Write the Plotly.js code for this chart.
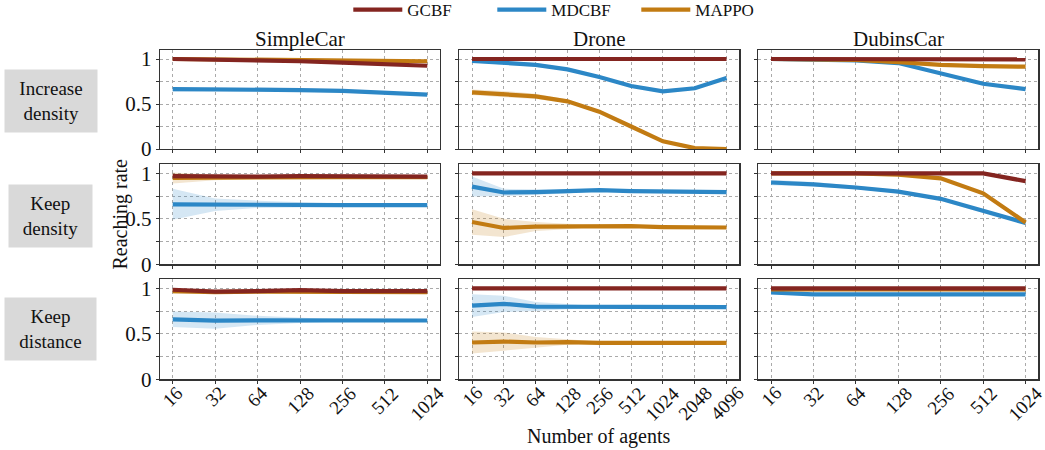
<!DOCTYPE html>
<html>
<head>
<meta charset="utf-8">
<script src="https://cdn.plot.ly/plotly-3.0.1.min.js"></script>
<style>html,body{margin:0;padding:0;background:#fff;}#chart{width:1045px;height:450px;}</style>
</head>
<body>
<div id="chart"></div>
<script>
// ---------------- DATA ----------------
const methods = ["GCBF", "MDCBF", "MAPPO"];
const envs = ["SimpleCar", "Drone", "DubinsCar"];
const settings = ["Increase<br>density", "Keep<br>density", "Keep<br>distance"];
const agentsSC = [16, 32, 64, 128, 256, 512, 1024];
const agentsDR = [16, 32, 64, 128, 256, 512, 1024, 2048, 4096];
const agentsDC = [16, 32, 64, 128, 256, 512, 1024];

// Increase density
const scIncGCBF = [1.0, 0.995, 0.985, 0.975, 0.96, 0.945, 0.925];
const scIncGCBFsd = [0.005, 0.005, 0.008, 0.01, 0.01, 0.01, 0.01];
const scIncMDCBF = [0.665, 0.665, 0.66, 0.655, 0.645, 0.63, 0.605];
const scIncMDCBFsd = [0.025, 0.02, 0.02, 0.02, 0.015, 0.01, 0.01];
const scIncMAPPO = [1.0, 0.995, 0.99, 0.985, 0.98, 0.975, 0.975];
const scIncMAPPOsd = [0.005, 0.005, 0.005, 0.005, 0.005, 0.005, 0.005];

const drIncGCBF = [1.0, 1.0, 1.0, 1.0, 1.0, 1.0, 1.0, 1.0, 1.0];
const drIncGCBFsd = [0.004, 0.004, 0.004, 0.004, 0.004, 0.004, 0.004, 0.004, 0.004];
const drIncMDCBF = [0.98, 0.96, 0.935, 0.885, 0.80, 0.70, 0.64, 0.675, 0.79];
const drIncMDCBFsd = [0.02, 0.02, 0.02, 0.015, 0.01, 0.01, 0.01, 0.01, 0.01];
const drIncMAPPO = [0.63, 0.61, 0.585, 0.53, 0.415, 0.25, 0.085, 0.01, 0.0];
const drIncMAPPOsd = [0.03, 0.035, 0.03, 0.02, 0.01, 0.01, 0.01, 0.005, 0.0];

const dcIncGCBF = [1.0, 1.0, 1.0, 1.0, 1.0, 1.0, 0.995];
const dcIncGCBFsd = [0.004, 0.004, 0.004, 0.004, 0.004, 0.004, 0.004];
const dcIncMDCBF = [1.0, 0.995, 0.985, 0.955, 0.845, 0.725, 0.665];
const dcIncMDCBFsd = [0.005, 0.005, 0.005, 0.01, 0.01, 0.01, 0.01];
const dcIncMAPPO = [1.0, 1.0, 0.99, 0.965, 0.935, 0.92, 0.915];
const dcIncMAPPOsd = [0.005, 0.005, 0.005, 0.01, 0.01, 0.01, 0.01];

// Keep density
const scDenGCBF = [0.97, 0.965, 0.965, 0.97, 0.965, 0.965, 0.965];
const scDenGCBFsd = [0.03, 0.01, 0.01, 0.01, 0.01, 0.01, 0.01];
const scDenMDCBF = [0.66, 0.655, 0.66, 0.655, 0.65, 0.65, 0.65];
const scDenMDCBFsd = [0.17, 0.07, 0.04, 0.03, 0.02, 0.015, 0.01];
const scDenMAPPO = [0.95, 0.955, 0.96, 0.965, 0.96, 0.96, 0.96];
const scDenMAPPOsd = [0.06, 0.03, 0.02, 0.01, 0.01, 0.01, 0.01];

const drDenGCBF = [1.0, 1.0, 1.0, 1.0, 1.0, 1.0, 1.0, 1.0, 1.0];
const drDenGCBFsd = [0.004, 0.004, 0.004, 0.004, 0.004, 0.004, 0.004, 0.004, 0.004];
const drDenMDCBF = [0.855, 0.79, 0.795, 0.80, 0.815, 0.805, 0.80, 0.795, 0.795];
const drDenMDCBFsd = [0.11, 0.04, 0.03, 0.02, 0.01, 0.01, 0.01, 0.01, 0.01];
const drDenMAPPO = [0.465, 0.40, 0.415, 0.415, 0.425, 0.42, 0.41, 0.41, 0.405];
const drDenMAPPOsd = [0.14, 0.10, 0.05, 0.03, 0.01, 0.01, 0.01, 0.01, 0.01];

const dcDenGCBF = [1.0, 1.0, 1.0, 1.0, 1.0, 1.0, 0.915];
const dcDenGCBFsd = [0.004, 0.004, 0.004, 0.004, 0.004, 0.004, 0.01];
const dcDenMDCBF = [0.90, 0.88, 0.845, 0.80, 0.72, 0.59, 0.455];
const dcDenMDCBFsd = [0.03, 0.025, 0.02, 0.015, 0.01, 0.01, 0.01];
const dcDenMAPPO = [1.0, 1.0, 1.0, 0.985, 0.945, 0.78, 0.46];
const dcDenMAPPOsd = [0.005, 0.005, 0.005, 0.01, 0.01, 0.01, 0.01];

// Keep distance
const scDisGCBF = [0.985, 0.965, 0.97, 0.98, 0.97, 0.97, 0.97];
const scDisGCBFsd = [0.02, 0.01, 0.01, 0.01, 0.01, 0.01, 0.01];
const scDisMDCBF = [0.66, 0.645, 0.648, 0.648, 0.647, 0.647, 0.647];
const scDisMDCBFsd = [0.085, 0.09, 0.05, 0.03, 0.01, 0.01, 0.01];
const scDisMAPPO = [0.97, 0.96, 0.965, 0.965, 0.96, 0.96, 0.96];
const scDisMAPPOsd = [0.03, 0.02, 0.01, 0.01, 0.01, 0.01, 0.01];

const drDisGCBF = [1.0, 1.0, 1.0, 1.0, 1.0, 1.0, 1.0, 1.0, 1.0];
const drDisGCBFsd = [0.004, 0.004, 0.004, 0.004, 0.004, 0.004, 0.004, 0.004, 0.004];
const drDisMDCBF = [0.81, 0.83, 0.80, 0.80, 0.795, 0.795, 0.795, 0.795, 0.795];
const drDisMDCBFsd = [0.125, 0.09, 0.05, 0.03, 0.01, 0.01, 0.01, 0.01, 0.01];
const drDisMAPPO = [0.405, 0.415, 0.405, 0.41, 0.40, 0.40, 0.395, 0.40, 0.40];
const drDisMAPPOsd = [0.12, 0.10, 0.06, 0.03, 0.015, 0.01, 0.01, 0.01, 0.01];

const dcDisGCBF = [1.0, 1.0, 1.0, 1.0, 1.0, 1.0, 1.0];
const dcDisGCBFsd = [0.004, 0.004, 0.004, 0.004, 0.004, 0.004, 0.004];
const dcDisMDCBF = [0.955, 0.935, 0.935, 0.935, 0.935, 0.935, 0.935];
const dcDisMDCBFsd = [0.02, 0.015, 0.01, 0.01, 0.01, 0.01, 0.01];
const dcDisMAPPO = [0.99, 0.99, 0.99, 0.99, 0.99, 0.99, 0.99];
const dcDisMAPPOsd = [0.005, 0.005, 0.005, 0.005, 0.005, 0.005, 0.005];

// ---------------- STYLE ----------------
const colors = {GCBF: "#842520", MDCBF: "#2c87c6", MAPPO: "#c27b12"};
const bands = {GCBF: "rgba(132,37,32,0.22)", MDCBF: "rgba(44,135,198,0.2)", MAPPO: "rgba(194,123,18,0.2)"};
const FONT = "'Liberation Serif', 'Times New Roman', serif";

const panels = [
  [0, 0, agentsSC, {GCBF: [scIncGCBF, scIncGCBFsd], MDCBF: [scIncMDCBF, scIncMDCBFsd], MAPPO: [scIncMAPPO, scIncMAPPOsd]}],
  [0, 1, agentsDR, {GCBF: [drIncGCBF, drIncGCBFsd], MDCBF: [drIncMDCBF, drIncMDCBFsd], MAPPO: [drIncMAPPO, drIncMAPPOsd]}],
  [0, 2, agentsDC, {GCBF: [dcIncGCBF, dcIncGCBFsd], MDCBF: [dcIncMDCBF, dcIncMDCBFsd], MAPPO: [dcIncMAPPO, dcIncMAPPOsd]}],
  [1, 0, agentsSC, {GCBF: [scDenGCBF, scDenGCBFsd], MDCBF: [scDenMDCBF, scDenMDCBFsd], MAPPO: [scDenMAPPO, scDenMAPPOsd]}],
  [1, 1, agentsDR, {GCBF: [drDenGCBF, drDenGCBFsd], MDCBF: [drDenMDCBF, drDenMDCBFsd], MAPPO: [drDenMAPPO, drDenMAPPOsd]}],
  [1, 2, agentsDC, {GCBF: [dcDenGCBF, dcDenGCBFsd], MDCBF: [dcDenMDCBF, dcDenMDCBFsd], MAPPO: [dcDenMAPPO, dcDenMAPPOsd]}],
  [2, 0, agentsSC, {GCBF: [scDisGCBF, scDisGCBFsd], MDCBF: [scDisMDCBF, scDisMDCBFsd], MAPPO: [scDisMAPPO, scDisMAPPOsd]}],
  [2, 1, agentsDR, {GCBF: [drDisGCBF, drDisGCBFsd], MDCBF: [drDisMDCBF, drDisMDCBFsd], MAPPO: [drDisMAPPO, drDisMAPPOsd]}],
  [2, 2, agentsDC, {GCBF: [dcDisGCBF, dcDisGCBFsd], MDCBF: [dcDisMDCBF, dcDisMDCBFsd], MAPPO: [dcDisMAPPO, dcDisMAPPOsd]}]
];

const W = 1045, H = 450;
const colPx = [[160, 440], [459.3, 739.3], [758.3, 1038.3]];
const rowPx = [[50, 149], [164.3, 264.3], [279.3, 379.3]];
const drawOrder = ["MDCBF", "MAPPO", "GCBF"];
const legendRank = {GCBF: 1, MDCBF: 2, MAPPO: 3};

const traces = [];
const layout = {
  width: W, height: H,
  margin: {l: 0, r: 0, t: 0, b: 0, autoexpand: false},
  paper_bgcolor: "#fff", plot_bgcolor: "#fff",
  font: {family: FONT, color: "#111", size: 19},
  showlegend: true,
  legend: {orientation: "h", x: 0.54, xanchor: "center", y: 1 - 10 / H, yanchor: "middle",
           itemwidth: 49, entrywidth: 80,
           font: {family: FONT, size: 17, color: "#111"}, bgcolor: "rgba(0,0,0,0)", traceorder: "normal"},
  annotations: [], shapes: []
};

panels.forEach(([r, c, agents, data]) => {
  const k = r * 3 + c + 1;
  const xa = "x" + (k === 1 ? "" : k), ya = "y" + (k === 1 ? "" : k);
  const xs = agents.map(a => Math.log2(a));
  const n = xs.length - 1;
  drawOrder.forEach(m => {
    const [mean, sd] = data[m];
    const up = mean.map((v, i) => Math.min(v + sd[i], 1.01));
    const lo = mean.map((v, i) => v - sd[i]);
    traces.push({
      x: xs.concat(xs.slice().reverse()), y: up.concat(lo.slice().reverse()),
      xaxis: xa, yaxis: ya, type: "scatter", mode: "lines", fill: "toself",
      fillcolor: bands[m], line: {width: 0, color: "rgba(0,0,0,0)"},
      hoverinfo: "skip", showlegend: false
    });
    traces.push({
      x: xs, y: mean, xaxis: xa, yaxis: ya, type: "scatter", mode: "lines",
      name: m, line: {color: colors[m], width: 4.2},
      showlegend: k === 1, legendrank: legendRank[m]
    });
  });
  const pad = n * 0.05;
  layout["xaxis" + (k === 1 ? "" : k)] = {
    domain: [colPx[c][0] / W, colPx[c][1] / W], anchor: ya,
    range: [xs[0] - pad, xs[n] + pad],
    tickvals: xs, ticktext: agents.map(String), showticklabels: false,
    ticks: "outside", ticklen: 3, tickcolor: "#333",
    showgrid: true, gridcolor: "#aaaaaa", griddash: "dot", gridwidth: 1,
    showline: true, linecolor: "#333", linewidth: 1.3, mirror: true, zeroline: false,
    fixedrange: true
  };
  layout["yaxis" + (k === 1 ? "" : k)] = {
    domain: [1 - rowPx[r][1] / H, 1 - rowPx[r][0] / H], anchor: xa,
    range: [0, 1.1],
    tickvals: [0, 0.25, 0.5, 0.75, 1], ticktext: ["0", "", "0.5", "", "1"],
    showticklabels: c === 0,
    tickfont: {family: FONT, size: 21, color: "#111"},
    ticks: "outside", ticklen: 3, tickcolor: "#333",
    showgrid: true, gridcolor: "#aaaaaa", griddash: "dot", gridwidth: 1,
    showline: true, linecolor: "#333", linewidth: 1.3, mirror: true, zeroline: false,
    fixedrange: true
  };
  // rotated x tick labels (bottom row), centred on their ticks like matplotlib
  if (r === 2) {
    agents.forEach((a, i) => {
      layout.annotations.push({
        text: String(a), xref: xa, yref: "paper",
        x: xs[i], y: 1 - 381 / H, xanchor: "center", yanchor: "top",
        textangle: -45, showarrow: false, borderpad: 0,
        font: {family: FONT, size: 19, color: "#111"}
      });
    });
  }
});

// column titles
envs.forEach((e, c) => {
  layout.annotations.push({
    text: e, xref: "paper", yref: "paper",
    x: (colPx[c][0] + colPx[c][1]) / 2 / W, y: 1 - 39.5 / H,
    xanchor: "center", yanchor: "middle", showarrow: false,
    font: {family: FONT, size: 21, color: "#111"}
  });
});
// row labels
const rowLabelCenters = [101, 216, 329];
const rowLabelWidths = [88, 79, 87];
settings.forEach((s, r) => {
  layout.annotations.push({
    text: s, xref: "paper", yref: "paper",
    x: 51 / W, y: 1 - rowLabelCenters[r] / H,
    xanchor: "center", yanchor: "middle", showarrow: false,
    bgcolor: "#d9d9d9", width: rowLabelWidths[r], height: 58, borderpad: 2,
    font: {family: FONT, size: 19, color: "#111"}
  });
});
// axis titles
layout.annotations.push({
  text: "Reaching rate", xref: "paper", yref: "paper",
  x: 120 / W, y: 1 - 214.5 / H, textangle: -90,
  xanchor: "center", yanchor: "middle", showarrow: false,
  font: {family: FONT, size: 20, color: "#111"}
});
layout.annotations.push({
  text: "Number of agents", xref: "paper", yref: "paper",
  x: 599 / W, y: 1 - 436 / H,
  xanchor: "center", yanchor: "middle", showarrow: false,
  font: {family: FONT, size: 20, color: "#111"}
});

Plotly.newPlot("chart", traces, layout, {displayModeBar: false, staticPlot: true});
</script>
</body>
</html>
